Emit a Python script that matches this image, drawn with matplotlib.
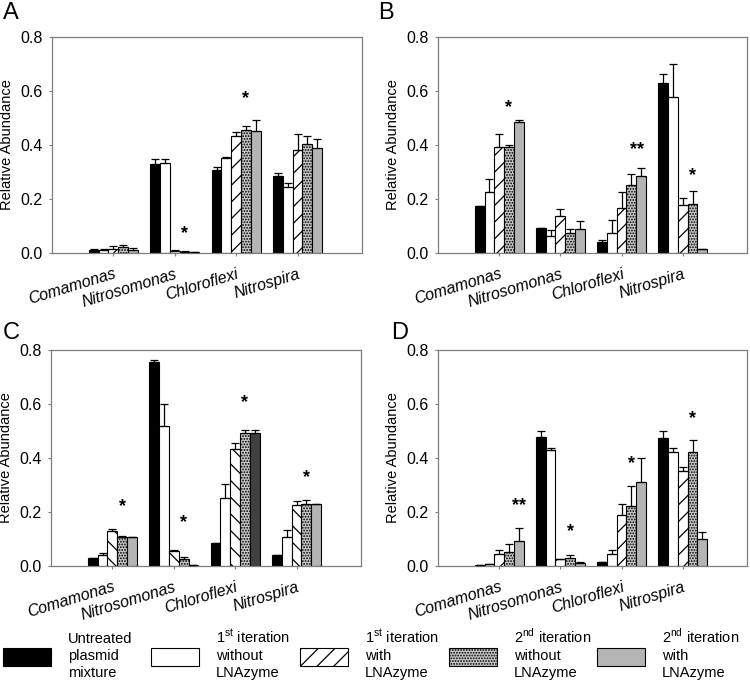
import matplotlib
matplotlib.use('Agg')
import matplotlib.pyplot as plt
from matplotlib.patches import Rectangle
import numpy as np

plt.rcParams['font.family'] = ['Liberation Sans', 'DejaVu Sans']
plt.rcParams['mathtext.fontset'] = 'custom'
plt.rcParams['mathtext.rm'] = 'Liberation Sans'
plt.rcParams['hatch.linewidth'] = 0.9

# ---------------- data ----------------
categories = ['Comamonas', 'Nitrosomonas', 'Chloroflexi', 'Nitrospira']
series = [['Untreated', 'plasmid', 'mixture'],
          ['1$^{\\rm st}$ iteration', 'without', 'LNAzyme'],
          ['1$^{\\rm st}$ iteration', 'with', 'LNAzyme'],
          ['2$^{\\rm nd}$ iteration', 'without', 'LNAzyme'],
          ['2$^{\\rm nd}$ iteration', 'with', 'LNAzyme']]
y_ticks = [0.0, 0.2, 0.4, 0.6, 0.8]

# rows = categories, columns = series
A_means = [[0.012, 0.010, 0.014, 0.022, 0.010],
           [0.329, 0.333, 0.009, 0.005, 0.002],
           [0.307, 0.352, 0.435, 0.456, 0.452],
           [0.285, 0.244, 0.380, 0.402, 0.390]]
A_errs = [[0.002, 0.003, 0.012, 0.006, 0.009],
          [0.021, 0.014, 0.002, 0.001, 0.000],
          [0.012, 0.002, 0.013, 0.016, 0.042],
          [0.012, 0.015, 0.062, 0.033, 0.033]]
B_means = [[0.173, 0.227, 0.394, 0.393, 0.487],
           [0.091, 0.063, 0.137, 0.075, 0.090],
           [0.041, 0.073, 0.168, 0.253, 0.285],
           [0.630, 0.579, 0.179, 0.180, 0.014]]
B_errs = [[0.002, 0.047, 0.048, 0.007, 0.007],
          [0.001, 0.023, 0.026, 0.013, 0.027],
          [0.008, 0.049, 0.059, 0.040, 0.030],
          [0.033, 0.122, 0.024, 0.050, 0.002]]
C_means = [[0.028, 0.041, 0.130, 0.107, 0.106],
           [0.755, 0.520, 0.056, 0.025, 0.002],
           [0.085, 0.253, 0.433, 0.493, 0.493],
           [0.042, 0.106, 0.225, 0.228, 0.230]]
C_errs = [[0.000, 0.007, 0.008, 0.005, 0.003],
          [0.007, 0.079, 0.002, 0.007, 0.000],
          [0.000, 0.050, 0.023, 0.010, 0.011],
          [0.000, 0.026, 0.015, 0.015, 0.000]]
D_means = [[0.004, 0.006, 0.044, 0.052, 0.094],
           [0.478, 0.430, 0.027, 0.028, 0.012],
           [0.016, 0.044, 0.188, 0.221, 0.312],
           [0.475, 0.424, 0.351, 0.424, 0.100]]
D_errs = [[0.000, 0.000, 0.016, 0.028, 0.047],
          [0.023, 0.007, 0.000, 0.014, 0.003],
          [0.000, 0.015, 0.043, 0.074, 0.089],
          [0.025, 0.014, 0.015, 0.044, 0.027]]

# significance marks: (category index, series position, y, label)
A_stars = [(1, 3, 0.072, '*'), (2, 3, 0.573, '*')]
B_stars = [(0, 3, 0.537, '*'), (2, 3.6, 0.382, '**'), (3, 3, 0.285, '*')]
C_stars = [(0, 3, 0.221, '*'), (1, 3, 0.159, '*'), (2, 3, 0.606, '*'), (3, 3, 0.326, '*')]
D_stars = [(0, 4, 0.222, '**'), (1, 3, 0.128, '*'), (2, 3, 0.380, '*'), (3, 3, 0.546, '*')]

# ---------------- styles ----------------
faces = ['black', 'white', 'white', '#c8c8c8', '#b4b4b4']
hatches = [None, None, '//', '......', None]
bar_w = 0.16
W, H = 750, 682

fig = plt.figure(figsize=(7.5, 6.82), dpi=100)

def px_axes(l, t, r, b):
    return fig.add_axes([l / W, 1 - b / H, (r - l) / W, (b - t) / H])

panels = [
    ('A', A_means, A_errs, A_stars, (52, 37, 362, 253), (3, 19), '//', None),
    ('B', B_means, B_errs, B_stars, (438, 37, 747, 253), (378, 19), '//', None),
    ('C', C_means, C_errs, C_stars, (51, 350, 361, 566), (3, 339), '\\\\', (2, 4)),
    ('D', D_means, D_errs, D_stars, (438, 350, 747, 566), (391, 339), '//', None),
]

spine_col = '#7f7f7f'
for letter, means, errs, stars, box, lab, hatch3, dark in panels:
    ax = px_axes(*box)
    m = np.array(means)
    e = np.array(errs)
    xc = np.arange(1, len(categories) + 1)
    for j in range(len(series)):
        x = xc + (j - 2) * bar_w
        h = hatch3 if j == 2 else hatches[j]
        bars = ax.bar(x, m[:, j], bar_w, color=faces[j], edgecolor='black',
                      hatch=h, linewidth=0.8, zorder=2)
        if dark is not None and dark[1] == j:
            bars[dark[0]].set_facecolor('#404040')
        ax.errorbar(x, m[:, j], yerr=[np.zeros(len(x)), e[:, j]], fmt='none',
                    ecolor='black', elinewidth=0.9, capsize=3, capthick=0.9, zorder=3)
    for ci, pos, yv, s in stars:
        ax.text(xc[ci] + (pos - 2) * bar_w, yv, s, ha='center', va='center',
                fontsize=13, fontweight='bold')
    ax.set_xlim(0, 5.05)
    ax.set_ylim(0, 0.8)
    ax.set_yticks(y_ticks)
    ax.set_yticklabels(['%.1f' % v for v in y_ticks], fontsize=11.5)
    ax.set_xticks(xc)
    ax.set_xticklabels(categories, fontsize=11.5, style='italic', rotation=17,
                       ha='right', rotation_mode='anchor')
    ax.tick_params(axis='y', length=2.5, pad=4.5, color=spine_col)
    ax.tick_params(axis='x', length=2.5, pad=7, color=spine_col)
    for sp in ax.spines.values():
        sp.set_color(spine_col)
        sp.set_linewidth(0.9)
    ax.set_ylabel('Relative Abundance', fontsize=10.5)
    ax.yaxis.set_label_coords(-38 / (box[2] - box[0]), 0.5)
    fig.text(lab[0] / W, 1 - lab[1] / H, letter, fontsize=17, va='baseline', ha='left')

# ---------------- legend ----------------
patch_x = [3, 151, 300, 449, 597]
line_y = [643, 660, 677]
for j, lines in enumerate(series):
    x0 = patch_x[j]
    fig.patches.append(Rectangle((x0 / W, 1 - 666 / H), 48 / W, 18 / H,
                                 transform=fig.transFigure, facecolor=faces[j],
                                 edgecolor='black', linewidth=0.8, hatch=hatches[j]))
    for k, txt in enumerate(lines):
        fig.text((x0 + 65) / W, 1 - line_y[k] / H, txt, fontsize=10.5,
                 va='baseline', ha='left')

fig.savefig('out.png', dpi=100)
